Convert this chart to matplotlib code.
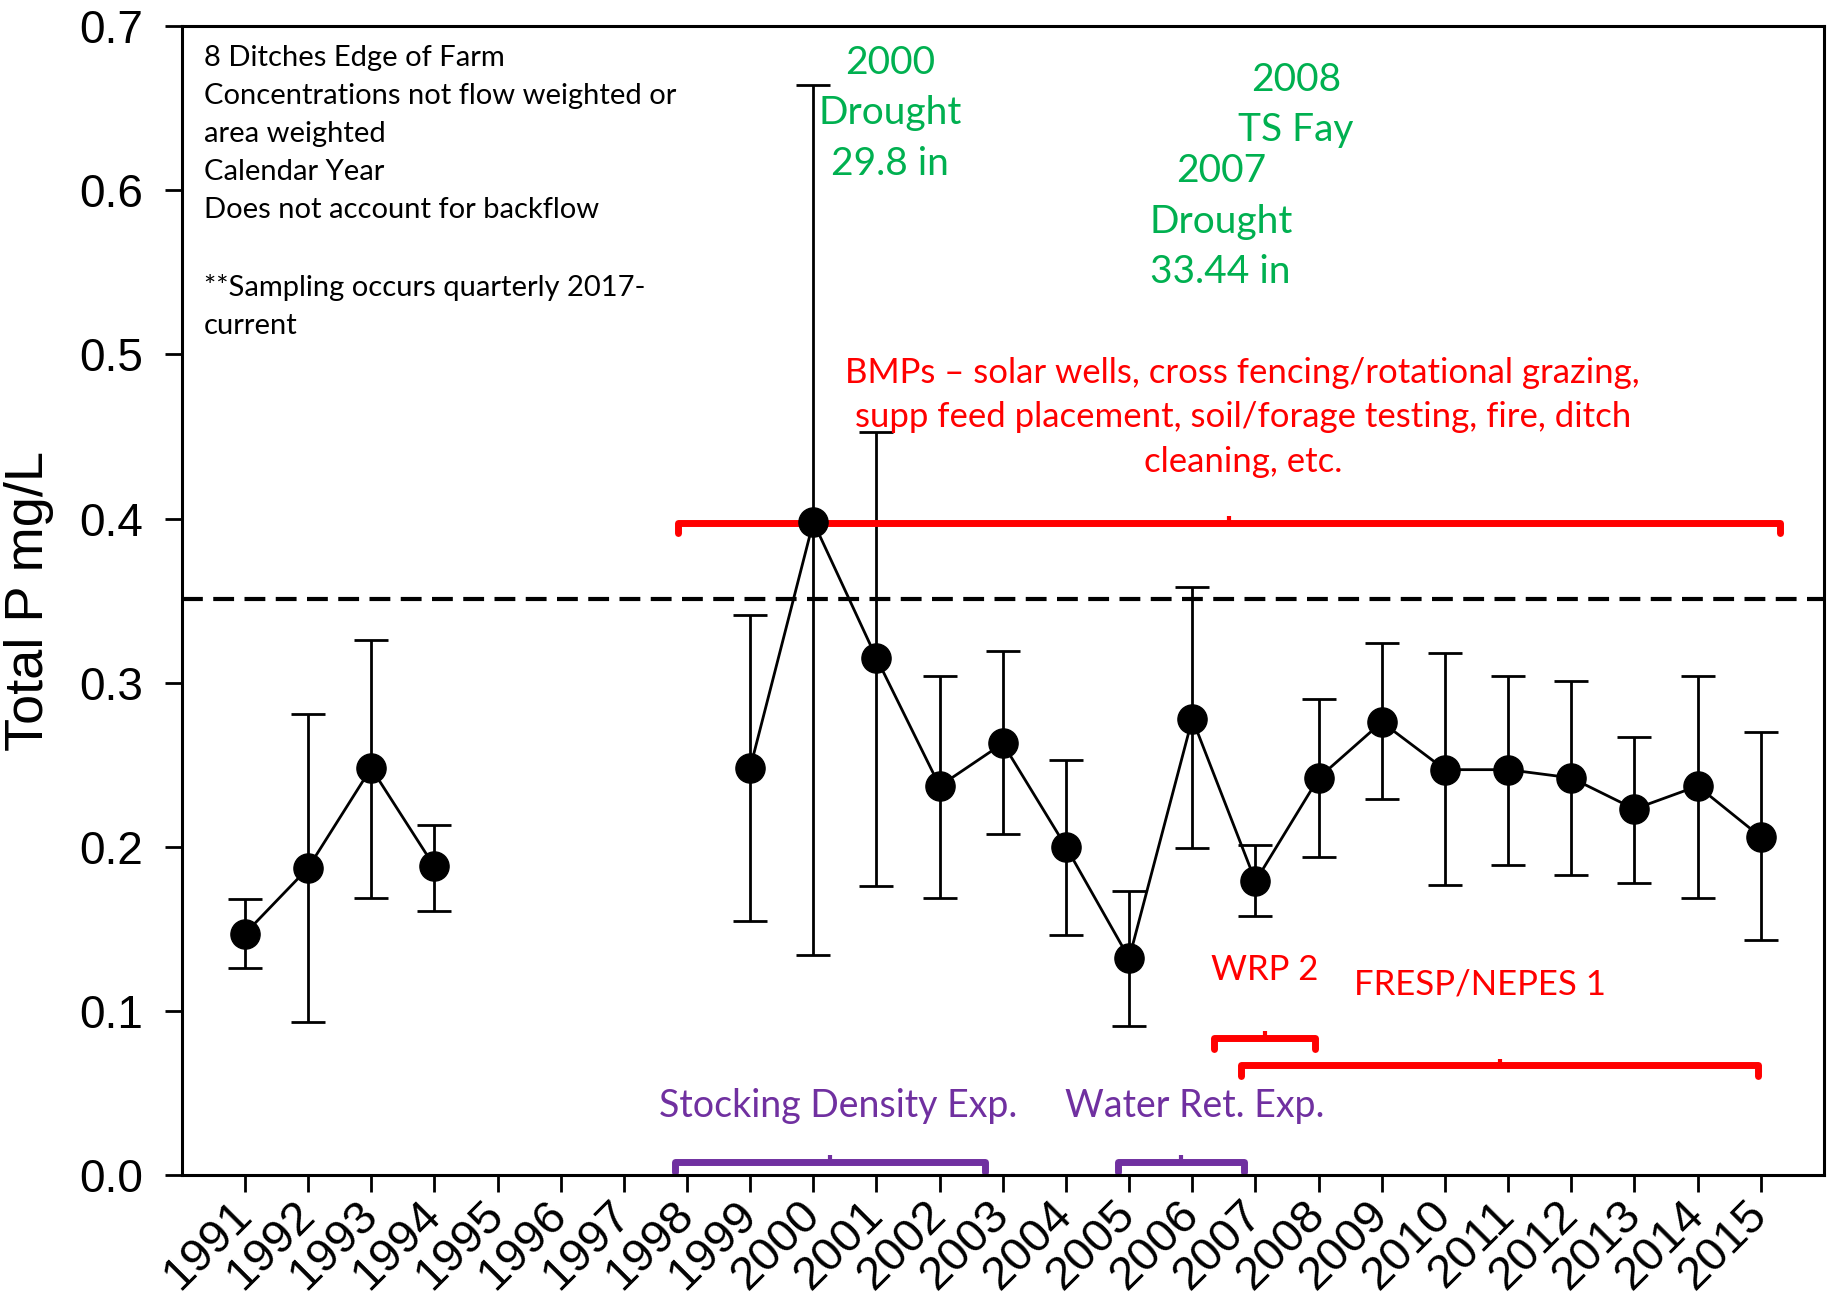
import numpy as np
import matplotlib.pyplot as plt

years = np.arange(1991, 2016)
# annual mean total P (mg/L); nan = no sampling
tp_mean = [0.147, 0.187, 0.248, 0.188, np.nan, np.nan, np.nan, np.nan,
           0.248, 0.398, 0.315, 0.237, 0.263, 0.200, 0.132, 0.278,
           0.179, 0.242, 0.276, 0.247, 0.247, 0.242, 0.223, 0.237, 0.206]
tp_high = [0.168, 0.281, 0.326, 0.213, np.nan, np.nan, np.nan, np.nan,
           0.341, 0.664, 0.453, 0.304, 0.319, 0.253, 0.173, 0.358,
           0.201, 0.290, 0.324, 0.318, 0.304, 0.301, 0.267, 0.304, 0.270]
tp_low = [0.126, 0.093, 0.169, 0.161, np.nan, np.nan, np.nan, np.nan,
          0.155, 0.134, 0.176, 0.169, 0.208, 0.146, 0.091, 0.199,
          0.158, 0.194, 0.229, 0.177, 0.189, 0.183, 0.178, 0.169, 0.143]
target_p = 0.351

# program periods: (start, end, level)
red_periods = [(1997.85, 2015.30, 0.3975), (2006.34, 2007.95, 0.0835),
               (2006.77, 2014.96, 0.067)]
purple_periods = [(1997.81, 2002.71, 0.0082), (2004.82, 2006.82, 0.0082)]

note_text = ("8 Ditches Edge of Farm\nConcentrations not flow weighted or\n"
             "area weighted\nCalendar Year\nDoes not account for backflow\n\n"
             "**Sampling occurs quarterly 2017-\ncurrent")
green_notes = [("2000\nDrought\n29.8 in", 2001.21, 0.647),
               ("2008\nTS Fay", 2007.64, 0.652),
               ("2007\nDrought\n33.44 in", 2006.45, 0.581)]
red_notes = [("BMPs \u2013 solar wells, cross fencing/rotational grazing,\n"
              "supp feed placement, soil/forage testing, fire, ditch\n"
              "cleaning, etc.", 2006.8, 0.4617),
             ("WRP 2", 2007.14, 0.1249),
             ("FRESP/NEPES 1", 2010.56, 0.1163)]
purple_notes = [("Stocking Density Exp.", 2000.40, 0.0421),
                ("Water Ret. Exp.", 2006.04, 0.0421)]

GREEN = '#00b050'
RED = '#ff0000'
PURPLE = '#7030a0'
NOTE_FONT = 'Lato'

plt.rcParams['font.family'] = ['Liberation Sans', 'DejaVu Sans']


def bracket(ax, x0, x1, y, color):
    hook = 0.0065
    bump = 0.004
    xm = (x0 + x1) / 2
    ax.plot([x0, x0, x1, x1], [y - hook, y, y, y - hook], color=color, lw=5,
            solid_joinstyle='round', solid_capstyle='round')
    ax.plot([xm, xm], [y, y + bump], color=color, lw=3, solid_capstyle='butt')


fig = plt.figure(figsize=(18.37, 13.04), dpi=100)
ax = fig.add_axes([0.0989, 0.0989, 0.894, 0.881])

mean = np.array(tp_mean)
yerr = [mean - np.array(tp_low), np.array(tp_high) - mean]
ax.errorbar(years, mean, yerr=yerr, fmt='o-', color='black', ms=21, lw=2,
            elinewidth=2, capsize=12, capthick=2)
ax.axhline(target_p, color='black', lw=3, dashes=(5, 2.5))

for x0, x1, y in red_periods:
    bracket(ax, x0, x1, y, RED)
for x0, x1, y in purple_periods:
    bracket(ax, x0, x1, y, PURPLE)

ax.text(1990.35, 0.599, note_text, fontsize=21, family=NOTE_FONT,
        ha='left', va='center', linespacing=1.58)
for txt, x, y in green_notes:
    ax.text(x, y, txt, fontsize=28, family=NOTE_FONT, color=GREEN,
            ha='center', va='center', multialignment='center', linespacing=1.5)
for txt, x, y in red_notes:
    ax.text(x, y, txt, fontsize=25, family=NOTE_FONT, color=RED,
            ha='center', va='center', multialignment='center', linespacing=1.48)
for txt, x, y in purple_notes:
    ax.text(x, y, txt, fontsize=27, family=NOTE_FONT, color=PURPLE,
            ha='center', va='center')

ax.set_xlim(1990, 2016)
ax.set_ylim(0, 0.7)
ax.set_xticks(years)
ax.set_xticklabels([str(y) for y in years], rotation=45, ha='right',
                   va='center', rotation_mode='anchor', fontsize=34)
ax.set_yticks(np.arange(0, 0.71, 0.1))
ax.set_yticklabels(['%.1f' % v for v in np.arange(0, 0.71, 0.1)], fontsize=33)
ax.tick_params(axis='both', direction='out', length=12, width=2)
ax.tick_params(axis='x', pad=12)
ax.tick_params(axis='y', pad=16)
for sp in ax.spines.values():
    sp.set_linewidth(2.2)

ax.set_ylabel('Total P mg/L', fontsize=39)
ax.yaxis.set_label_coords(-0.078, 0.5)

fig.savefig('out.png', dpi=100)
